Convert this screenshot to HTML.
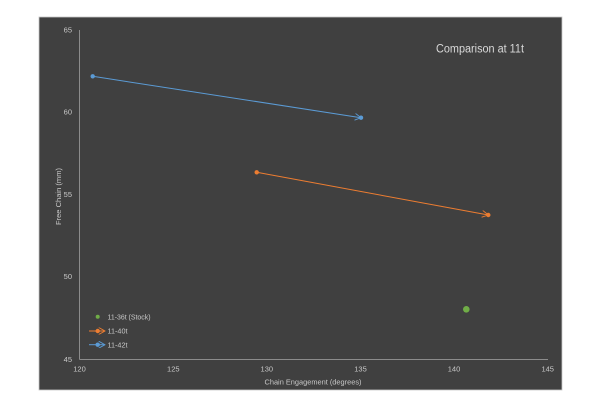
<!DOCTYPE html>
<html>
<head>
<meta charset="utf-8">
<style>
html,body{margin:0;padding:0;background:#ffffff;}
svg{display:block;}
text{font-family:"Liberation Sans",sans-serif;}
</style>
</head>
<body>
<svg width="600" height="408" viewBox="0 0 600 408" xmlns="http://www.w3.org/2000/svg">
  <defs>
    <marker id="arB" viewBox="0 0 10 10" refX="9" refY="5" markerWidth="7" markerHeight="7" orient="auto" markerUnits="userSpaceOnUse">
      <path d="M0,0 L9,5 L0,10" fill="none" stroke="#5b9bd5" stroke-width="1.3"/>
    </marker>
    <marker id="arO" viewBox="0 0 10 10" refX="9" refY="5" markerWidth="7" markerHeight="7" orient="auto" markerUnits="userSpaceOnUse">
      <path d="M0,0 L9,5 L0,10" fill="none" stroke="#ed7d31" stroke-width="1.3"/>
    </marker>
  </defs>
  <rect x="39" y="17" width="523" height="373" fill="#404040" stroke="#c8c8c8" stroke-width="0.8"/>

  <!-- axes -->
  <line x1="79.5" y1="30" x2="79.5" y2="359.5" stroke="#8c8c8c" stroke-width="1"/>
  <line x1="79.5" y1="359.5" x2="548" y2="359.5" stroke="#8c8c8c" stroke-width="1"/>

  <!-- y tick labels -->
  <g fill="#c8c8c8" font-size="7.5" text-anchor="end">
    <text x="72" y="32.5">65</text>
    <text x="72" y="114.5">60</text>
    <text x="72" y="197">55</text>
    <text x="72" y="279">50</text>
    <text x="72" y="362">45</text>
  </g>
  <!-- x tick labels -->
  <g fill="#c8c8c8" font-size="7.5" text-anchor="middle">
    <text x="79.5" y="371.5">120</text>
    <text x="173.3" y="371.5">125</text>
    <text x="266.8" y="371.5">130</text>
    <text x="360.5" y="371.5">135</text>
    <text x="454" y="371.5">140</text>
    <text x="547.7" y="371.5">145</text>
  </g>
  <text x="313" y="384.5" fill="#c8c8c8" font-size="7.5" text-anchor="middle" textLength="97" lengthAdjust="spacingAndGlyphs">Chain Engagement  (degrees)</text>
  <text transform="translate(61,196.5) rotate(-90)" fill="#c8c8c8" font-size="7" text-anchor="middle" textLength="57" lengthAdjust="spacingAndGlyphs">Free Chain (mm)</text>

  <text x="436" y="52.5" fill="#d9d9d9" font-size="11.5" textLength="88" lengthAdjust="spacingAndGlyphs">Comparison at 11t</text>

  <!-- blue series -->
  <line x1="92.7" y1="76.3" x2="361" y2="117.7" stroke="#5b9bd5" stroke-width="1" marker-end="url(#arB)"/>
  <circle cx="92.7" cy="76.3" r="2.2" fill="#5b9bd5"/>
  <circle cx="361" cy="117.7" r="2.2" fill="#5b9bd5"/>

  <!-- orange series -->
  <line x1="256.7" y1="172.3" x2="488.3" y2="215" stroke="#ed7d31" stroke-width="1" marker-end="url(#arO)"/>
  <circle cx="256.7" cy="172.3" r="2.2" fill="#ed7d31"/>
  <circle cx="488.3" cy="215" r="2.2" fill="#ed7d31"/>

  <!-- green point -->
  <circle cx="466.3" cy="309.3" r="3.3" fill="#70ad47"/>

  <!-- legend -->
  <circle cx="97.7" cy="316.7" r="2" fill="#70ad47"/>
  <text x="107.5" y="319.5" fill="#c8c8c8" font-size="7.5" textLength="43" lengthAdjust="spacingAndGlyphs">11-36t (Stock)</text>

  <line x1="89" y1="331" x2="105" y2="331" stroke="#ed7d31" stroke-width="1" marker-end="url(#arO)"/>
  <circle cx="97.7" cy="331" r="2.2" fill="#ed7d31"/>
  <text x="107.5" y="333.7" fill="#c8c8c8" font-size="7.5" textLength="20" lengthAdjust="spacingAndGlyphs">11-40t</text>

  <line x1="89" y1="344.7" x2="105" y2="344.7" stroke="#5b9bd5" stroke-width="1" marker-end="url(#arB)"/>
  <circle cx="97.7" cy="344.7" r="2.2" fill="#5b9bd5"/>
  <text x="107.5" y="347.4" fill="#c8c8c8" font-size="7.5" textLength="20" lengthAdjust="spacingAndGlyphs">11-42t</text>
</svg>
</body>
</html>
